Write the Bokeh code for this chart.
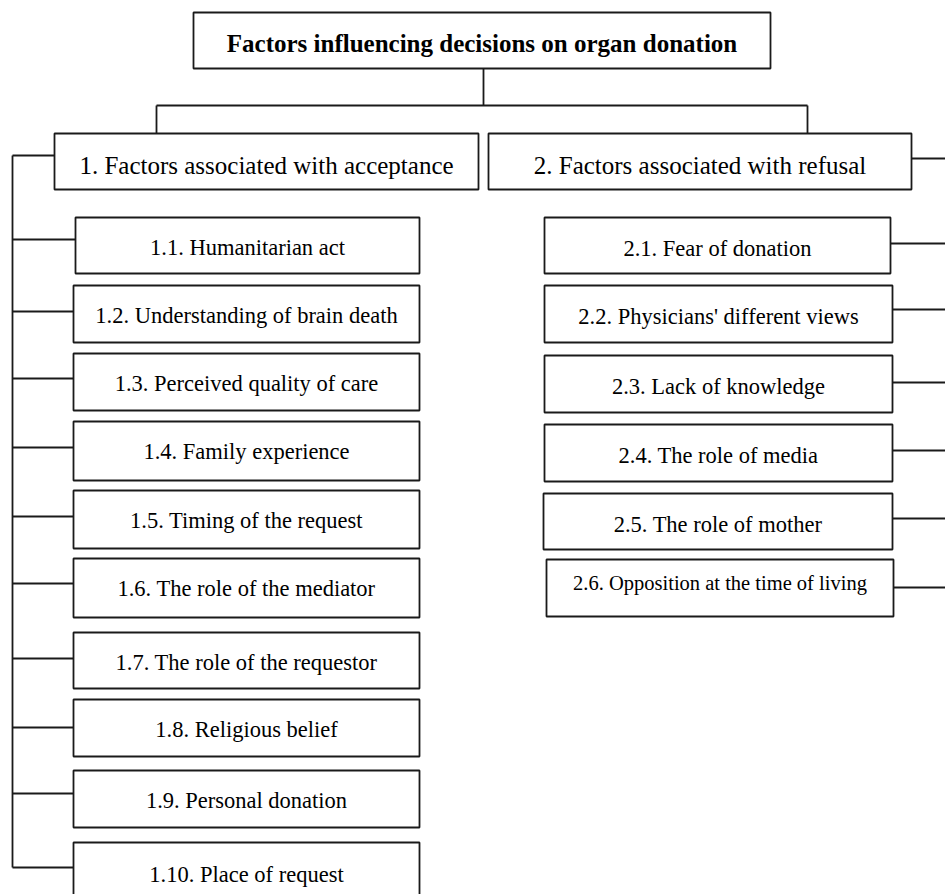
from bokeh.plotting import figure
from bokeh.models import Range1d
from bokeh.core.properties import value
from bokeh.embed import file_html
from bokeh.resources import INLINE

# ---- content ----
title_label = "Factors influencing decisions on organ donation"
group_labels = ["1. Factors associated with acceptance", "2. Factors associated with refusal"]
acceptance_factors = [
    "1.1. Humanitarian act",
    "1.2. Understanding of brain death",
    "1.3. Perceived quality of care",
    "1.4. Family experience",
    "1.5. Timing of the request",
    "1.6. The role of the mediator",
    "1.7. The role of the requestor",
    "1.8. Religious belief",
    "1.9. Personal donation",
    "1.10. Place of request",
]
refusal_factors = [
    "2.1. Fear of donation",
    "2.2. Physicians' different views",
    "2.3. Lack of knowledge",
    "2.4. The role of media",
    "2.5. The role of mother",
    "2.6. Opposition at the time of living",
]

# ---- layout (page pixel coordinates) ----
LINE = "#1a1a1a"
LW = 1.8
FONT = value("Liberation Serif")

acc_left = [75, 73, 73, 73, 73, 73, 73, 73, 73, 73]
acc_right = 419
acc_top = [217, 285, 353, 421, 490, 558, 632, 699, 770, 842]
acc_bottom = [273, 342, 410, 480, 548, 617, 688, 756, 827, 905]
acc_conn = [239, 311, 378, 447, 516, 583, 658, 727, 793, 867]
acc_base = [t + 30 for t in acc_top]
acc_base[-1] = acc_top[-1] + 32

ref_left = [544, 544, 544, 544, 543, 546]
ref_right = [890, 892, 892, 892, 892, 893]
ref_top = [217, 285, 355, 424, 493, 559]
ref_bottom = [273, 342, 412, 481, 549, 616]
ref_conn = [243, 309, 382, 450, 518, 587]
ref_base = [t + 31 for t in ref_top]
ref_base[-1] = ref_top[-1] + 23
ref_size = ["22.5px"] * 5 + ["20.5px"]

W, H = 945, 894
p = figure(width=W, height=H, x_range=Range1d(0, W), y_range=Range1d(H, 0),
           output_backend="svg", toolbar_location=None,
           x_axis_location=None, y_axis_location=None, min_border=0, title=None)
p.grid.visible = False
p.outline_line_color = None
p.background_fill_color = "white"
p.border_fill_color = "white"

# connectors
seg_x0 = [483, 156, 156, 807, 12, 12, 911]
seg_y0 = [68, 105, 105, 105, 155, 155, 158]
seg_x1 = [483, 807, 156, 807, 54, 12, 960]
seg_y1 = [105, 105, 133, 133, 155, 867, 158]
for l, c in zip(acc_left, acc_conn):
    seg_x0.append(12); seg_y0.append(c); seg_x1.append(l); seg_y1.append(c)
for r, c in zip(ref_right, ref_conn):
    seg_x0.append(r); seg_y0.append(c); seg_x1.append(960); seg_y1.append(c)
p.segment(x0=seg_x0, y0=seg_y0, x1=seg_x1, y1=seg_y1, line_color=LINE, line_width=LW)

# boxes
p.quad(left=[193], right=[770], top=[12], bottom=[68],
       fill_color="white", line_color=LINE, line_width=LW)
p.quad(left=[54, 488], right=[478, 911], top=[133, 133], bottom=[189, 189],
       fill_color="white", line_color=LINE, line_width=LW)
p.quad(left=acc_left, right=[acc_right] * len(acc_left), top=acc_top, bottom=acc_bottom,
       fill_color="white", line_color=LINE, line_width=LW)
p.quad(left=ref_left, right=ref_right, top=ref_top, bottom=ref_bottom,
       fill_color="white", line_color=LINE, line_width=LW)

# texts
p.text(x=[481.5], y=[43], text=[title_label], text_align="center", text_baseline="alphabetic",
       text_font=FONT, text_font_style="bold", text_font_size="25px", text_color="black")
p.text(x=[266, 699.5], y=[165, 165], text=group_labels, text_align="center",
       text_baseline="alphabetic", text_font=FONT, text_font_size="25px", text_color="black")
p.text(x=[(l + acc_right) / 2 for l in acc_left], y=acc_base, text=acceptance_factors,
       text_align="center", text_baseline="alphabetic", text_font=FONT,
       text_font_size="22.5px", text_color="black")
p.text(x=[(l + r) / 2 for l, r in zip(ref_left[:5], ref_right[:5])], y=ref_base[:5],
       text=refusal_factors[:5], text_align="center", text_baseline="alphabetic",
       text_font=FONT, text_font_size="22.5px", text_color="black")
p.text(x=[(ref_left[5] + ref_right[5]) / 2], y=[ref_base[5]], text=refusal_factors[5:],
       text_align="center", text_baseline="alphabetic", text_font=FONT,
       text_font_size="20.5px", text_color="black")

html = file_html(p, INLINE)
open("out.html", "w").write(html)
